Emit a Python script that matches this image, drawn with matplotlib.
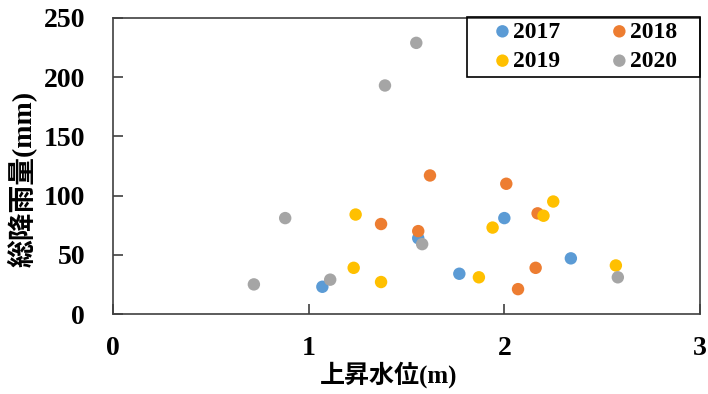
import matplotlib
matplotlib.use("Agg")
import matplotlib.pyplot as plt
from matplotlib.patches import Rectangle

# ============================================================
# DATA
# ============================================================

years = ["2017", "2018", "2019", "2020"]
colors = ["#5B9BD5", "#ED7D31", "#FFC000", "#A5A5A5"]

rise_2017 = [1.07, 1.56, 1.77, 2.00, 2.34]
rain_2017 = [23, 64, 34, 81, 47]

rise_2018 = [1.37, 1.62, 1.56, 2.01, 2.17, 2.16, 2.07]
rain_2018 = [76, 117, 70, 110, 85, 39, 21]

rise_2019 = [1.24, 1.23, 1.37, 1.87, 1.94, 2.25, 2.20, 2.57]
rain_2019 = [84, 39, 27, 31, 73, 95, 83, 41]

rise_2020 = [0.72, 0.88, 1.11, 1.39, 1.55, 1.58, 2.58]
rain_2020 = [25, 81, 29, 193, 229, 59, 31]

x_series = [rise_2017, rise_2018, rise_2019, rise_2020]
y_series = [rain_2017, rain_2018, rain_2019, rain_2020]

x_ticks = [0, 1, 2, 3]
y_ticks = [0, 50, 100, 150, 200, 250]

# ============================================================
# FIGURE
# ============================================================

plt.rcParams["font.family"] = ["Liberation Serif", "Noto Sans CJK JP", "DejaVu Sans"]
plt.rcParams["font.weight"] = "bold"

W, H = 708, 394
fig = plt.figure(figsize=(W / 100, H / 100), dpi=100)
ax = fig.add_axes([113 / W, 1 - 314 / H, 587 / W, 296 / H])

handles = []
for year, color, xs, ys in zip(years, colors, x_series, y_series):
    h = ax.scatter(xs, ys, s=80, color=color, edgecolors="none", label=year, zorder=3)
    handles.append(h)

ax.set_xlim(0, 3)
ax.set_ylim(0, 250)
ax.set_xticks(x_ticks)
ax.set_yticks(y_ticks)

for spine in ax.spines.values():
    spine.set_color("#404040")
    spine.set_linewidth(1.2)

ax.tick_params(axis="x", direction="in", length=7, width=1.2, color="#404040",
               pad=16, labelsize=20)
ax.tick_params(axis="y", direction="in", length=7, width=1.2, color="#404040",
               pad=20, labelsize=20)

ax.set_xlabel("上昇水位(m)", fontsize=18, fontweight="bold")
ax.xaxis.set_label_coords(0.47, -0.16)
ax.set_ylabel("総降雨量(mm)", fontsize=20, fontweight="bold")
ax.yaxis.set_label_coords(-0.128, 0.455)

# legend, filled row by row like the original (2017 2018 / 2019 2020)
order = [0, 2, 1, 3]
leg = fig.legend([handles[i] for i in order], [years[i] for i in order],
                 loc="upper left", bbox_to_anchor=(493 / W, 1 - 21 / H),
                 ncol=2, fontsize=17, frameon=False, borderpad=0, borderaxespad=0,
                 handlelength=0.8, handletextpad=0.05, columnspacing=2.1,
                 labelspacing=0.33)

fig.patches.append(Rectangle((467 / W, 1 - 77 / H), 233 / W, 60 / H,
                             transform=fig.transFigure, fill=False,
                             edgecolor="black", linewidth=1.2, zorder=5))

fig.savefig("out.png", dpi=100)
